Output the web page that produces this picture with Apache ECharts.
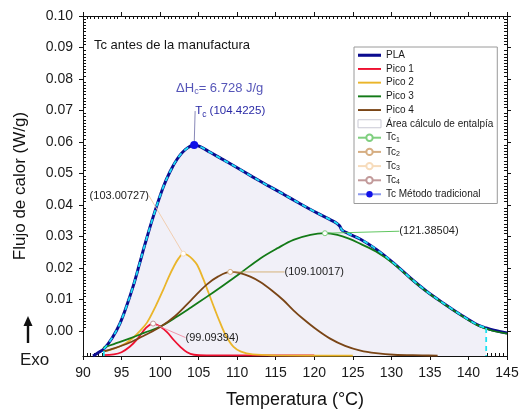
<!DOCTYPE html>
<html>
<head>
<meta charset="utf-8">
<script src="https://cdn.jsdelivr.net/npm/echarts@6/dist/echarts.min.js"></script>
<style>
  html, body { margin: 0; padding: 0; background: #ffffff; }
  #chart { width: 520px; height: 415px; }
</style>
</head>
<body>
<div id="chart"></div>
<script>
// DSC crystallization exotherm of PLA before processing, with its four fitted peaks.

// Axis tick labels
const xTickValues = [90, 95, 100, 105, 110, 115, 120, 125, 130, 135, 140, 145];
const yTickValues = [0.00, 0.01, 0.02, 0.03, 0.04, 0.05, 0.06, 0.07, 0.08, 0.09, 0.10];

// Measured heat flow (W/g) against temperature (°C)
const plaCurve = [
  [91.3, -0.0080], [92.0, -0.0069], [92.7, -0.0058], [93.8, -0.0022], [94.8, 0.0024],
  [95.6, 0.0075], [96.5, 0.0141], [97.3, 0.0210], [98.05, 0.0276], [99.1, 0.0362],
  [100.4, 0.0456], [101.3, 0.0506], [102.2, 0.0545], [103.2, 0.0574], [104.4225, 0.0590],
  [105.2, 0.0585], [106.5, 0.0567], [108.0, 0.0546], [110.0, 0.0518], [112.0, 0.0489],
  [114.0, 0.0461], [116.0, 0.0434], [118.0, 0.0406], [120.0, 0.0379], [122.0, 0.0354],
  [122.9, 0.0342], [123.3, 0.0333], [123.6, 0.0320], [124.5, 0.0308], [126.0, 0.0291],
  [128.1, 0.0258], [130.3, 0.0215], [132.5, 0.0167], [134.6, 0.0125], [136.8, 0.0087],
  [139.0, 0.0051], [141.1, 0.0020], [142.3, 0.0009], [143.3, 0.0002], [145.0, -0.0007]
];

// Fitted peaks
const pico1 = [
  [92.6, -0.0077], [94.0, -0.0075], [95.0, -0.0068], [96.1, -0.0050], [97.1, -0.0025],
  [98.2, 0.0010], [99.09394, 0.0023], [100.0, 0.0014], [100.9, -0.0004], [101.8, -0.0030],
  [102.6, -0.0050], [103.5, -0.0068], [104.4, -0.0076], [106.0, -0.0078], [120.0, -0.0078]
];
const pico2 = [
  [92.6, -0.0066], [94.0, -0.0057], [95.5, -0.0040], [96.5, -0.0022], [97.4, 0.0000],
  [98.3, 0.0026], [99.4, 0.0077], [100.4, 0.0130], [101.1, 0.0170], [101.8, 0.0205],
  [102.4, 0.0230], [103.00727, 0.0245], [103.6, 0.0240], [104.2, 0.0228], [104.8, 0.0210],
  [105.6, 0.0165], [106.3, 0.0120], [107.1, 0.0068], [107.8, 0.0025], [108.6, -0.0018],
  [109.5, -0.0050], [110.5, -0.0066], [112.0, -0.0075], [115.0, -0.0078], [125.0, -0.0079]
];
const pico3 = [
  [92.6, -0.0054], [94.0, -0.0042], [96.0, -0.0025], [98.0, -0.0006], [100.0, 0.0013],
  [102.0, 0.0042], [104.0, 0.0074], [106.0, 0.0107], [108.0, 0.0141], [110.4, 0.0183],
  [113.0, 0.0230], [115.2, 0.0262], [117.3, 0.0289], [119.5, 0.0305], [121.38504, 0.0310],
  [123.0, 0.0305], [124.5, 0.0293], [126.0, 0.0276], [128.0, 0.0252], [130.3, 0.0213],
  [132.5, 0.0166], [134.6, 0.0124], [136.8, 0.0086], [139.0, 0.0050], [141.1, 0.0019],
  [143.0, 0.0001], [145.0, -0.0009]
];
const pico4 = [
  [92.6, -0.0066], [94.0, -0.0056], [96.0, -0.0038], [98.0, -0.0014], [100.0, 0.0012],
  [102.0, 0.0048], [104.0, 0.0097], [106.0, 0.0146], [107.5, 0.0172], [109.10017, 0.0187],
  [110.4, 0.0183], [111.7, 0.0172], [113.0, 0.0155], [114.5, 0.0128], [116.0, 0.0097],
  [117.3, 0.0065], [118.5, 0.0039], [120.3, 0.0004], [122.0, -0.0024], [124.0, -0.0048],
  [126.0, -0.0063], [128.0, -0.0071], [130.3, -0.0076], [134.0, -0.0078], [136.0, -0.0079]
];

// Peak crystallization temperatures of the fitted peaks
const tcNames = ['Tc1', 'Tc2', 'Tc3', 'Tc4'];
const tcTemps = [121.38504, 109.10017, 103.00727, 99.09394];
const tcFlows = [0.0310, 0.0187, 0.0245, 0.0023];

// Traditional method: peak temperature, heat flow and crystallization enthalpy
const tcTraditional = [104.4225, 0.0590];
const deltaHc = 6.728;

// Integration limits of the enthalpy area (°C)
const areaLimits = [92.7, 142.3];

const Y_MIN = -0.008, Y_MAX = 0.10;
const FONT = 'Liberation Sans, Arial, Helvetica, sans-serif';
const ANNOT_BLUE = '#2a2aa6';

function minorTicks(major, parts) {
  const out = [];
  for (let i = 0; i < major.length - 1; i++) {
    const step = (major[i + 1] - major[i]) / parts;
    for (let k = 1; k < parts; k++) out.push(+(major[i] + k * step).toFixed(6));
  }
  return out;
}
const xMinor = minorTicks(xTickValues, 10);
const yMinor = minorTicks(yTickValues, 10);

const areaCurve = plaCurve.filter(p => p[0] >= areaLimits[0] && p[0] <= areaLimits[1]);
const flowAt = t => plaCurve.find(p => p[0] === t)[1];

function curve(name, data, color, width, extra) {
  return Object.assign({
    type: 'line', name, data, symbol: 'none', smooth: 0.35,
    lineStyle: { color, width }, itemStyle: { color }, silent: true, z: 3
  }, extra || {});
}

// plain line swatches for the legend
const thickLine = 'path://M0,0H24V3.2H0Z';
const thinLine = 'path://M0,0H24V2H0Z';

// Label styling for the four Tc markers
const tcColors = ['#7fcf7f', '#d6ae82', '#f7dcbc', '#c29a9a'];
const tcGuide = ['#4fbf4f', '#d2aa6c', '#f0c9a8', '#f08aa2'];
const tcOffsets = [[104, -2], [84, 0], [-64, -58], [59, 14]];

const tcSeries = tcNames.map((n, i) => ({
  type: 'line', name: n, data: [[tcTemps[i], tcFlows[i]]],
  symbol: 'circle', symbolSize: 5, showSymbol: true, z: 6,
  lineStyle: { color: tcColors[i], width: 1.2 },
  itemStyle: { color: '#ffffff', borderColor: tcColors[i], borderWidth: 1 },
  label: {
    show: true, position: 'inside', fontSize: 11, color: '#222', fontFamily: FONT,
    formatter: () => '(' + tcTemps[i].toFixed(5) + ')'
  },
  labelLayout: { dx: tcOffsets[i][0], dy: tcOffsets[i][1] },
  labelLine: { show: true, lineStyle: { color: tcGuide[i], width: 0.9 } }
}));

const subRich = (size, subSize) => ({
  n: { fontSize: size, lineHeight: 16, color: ANNOT_BLUE, fontFamily: FONT },
  s: { fontSize: subSize, lineHeight: 10, padding: [7, 0, 0, 0], color: ANNOT_BLUE, fontFamily: FONT }
});

const option = {
  animation: false,
  backgroundColor: '#ffffff',
  textStyle: { fontFamily: FONT },
  title: {
    text: 'Tc antes de la manufactura', left: 89, top: 34,
    textStyle: { fontSize: 13, fontWeight: 'normal', color: '#151515', fontFamily: FONT }
  },
  grid: { left: 83, right: 13, top: 16, bottom: 59, outerBoundsMode: 'none' },
  legend: {
    orient: 'vertical', left: 354, top: 47,
    backgroundColor: '#ffffff', borderColor: '#9a9a9a', borderWidth: 1, borderRadius: 0,
    padding: [3, 4, 4, 3], itemWidth: 23, itemHeight: 8, itemGap: 3.2,
    textStyle: {
      fontSize: 10, color: '#1a1a1a', fontFamily: FONT, lineHeight: 10.5,
      rich: {
        n: { fontSize: 10, lineHeight: 10.5, color: '#1a1a1a' },
        s: { fontSize: 7, lineHeight: 7, padding: [4, 0, 0, 0], color: '#1a1a1a' }
      }
    },
    formatter: name => /^Tc\d$/.test(name) ? '{n|Tc}{s|' + name.slice(2) + '}' : name,
    data: [
      { name: 'PLA', icon: thickLine },
      { name: 'Pico 1', icon: thinLine },
      { name: 'Pico 2', icon: thinLine },
      { name: 'Pico 3', icon: thinLine },
      { name: 'Pico 4', icon: thinLine },
      { name: 'Área cálculo de entalpía', icon: 'rect',
        itemStyle: { color: '#ffffff', borderColor: '#c9c9d4', borderWidth: 1 } },
      'Tc1', 'Tc2', 'Tc3', 'Tc4', 'Tc Método tradicional'
    ]
  },
  xAxis: [
    {
      type: 'value', position: 'bottom', min: 90, max: 145, interval: 5,
      axisLine: { onZero: false, lineStyle: { color: '#111', width: 1 } },
      axisTick: { show: true, inside: false, length: 4, lineStyle: { color: '#111' } },
      axisLabel: { fontSize: 14, color: '#1a1a1a', margin: 10, fontFamily: FONT },
      splitLine: { show: false },
      name: 'Temperatura (°C)', nameLocation: 'middle', nameGap: 35,
      nameTextStyle: { fontSize: 18, color: '#111', fontFamily: FONT }
    },
    {
      type: 'value', position: 'bottom', min: 90, max: 145,
      axisLine: { show: false, onZero: false },
      axisTick: { show: true, inside: true, length: 3, customValues: xMinor, lineStyle: { color: '#111' } },
      axisLabel: { show: false }, splitLine: { show: false }
    },
    {
      type: 'value', position: 'top', min: 90, max: 145, interval: 5,
      axisLine: { show: true, onZero: false, lineStyle: { color: '#111', width: 1 } },
      axisTick: { show: true, inside: false, length: 4, lineStyle: { color: '#111' } },
      axisLabel: { show: false }, splitLine: { show: false }
    },
    {
      type: 'value', position: 'top', min: 90, max: 145,
      axisLine: { show: false, onZero: false },
      axisTick: { show: true, inside: true, length: 3, customValues: xMinor, lineStyle: { color: '#111' } },
      axisLabel: { show: false }, splitLine: { show: false }
    }
  ],
  yAxis: [
    {
      type: 'value', position: 'left', min: Y_MIN, max: Y_MAX,
      axisLine: { show: true, onZero: false, lineStyle: { color: '#111', width: 1 } },
      axisTick: { show: true, inside: false, length: 4, customValues: yTickValues, lineStyle: { color: '#111' } },
      axisLabel: {
        customValues: yTickValues, formatter: v => v.toFixed(2),
        fontSize: 14, color: '#1a1a1a', margin: 10, fontFamily: FONT
      },
      splitLine: { show: false },
      name: 'Flujo de calor (W/g)', nameLocation: 'middle', nameGap: 54,
      nameTextStyle: { fontSize: 17, color: '#111', fontFamily: FONT }
    },
    {
      type: 'value', position: 'left', min: Y_MIN, max: Y_MAX,
      axisLine: { show: false, onZero: false },
      axisTick: { show: true, inside: true, length: 3, customValues: yMinor, lineStyle: { color: '#111' } },
      axisLabel: { show: false }, splitLine: { show: false }
    },
    {
      type: 'value', position: 'right', min: Y_MIN, max: Y_MAX,
      axisLine: { show: true, onZero: false, lineStyle: { color: '#111', width: 1 } },
      axisTick: { show: true, inside: false, length: 4, customValues: yTickValues, lineStyle: { color: '#111' } },
      axisLabel: { show: false }, splitLine: { show: false }
    },
    {
      type: 'value', position: 'right', min: Y_MIN, max: Y_MAX,
      axisLine: { show: false, onZero: false },
      axisTick: { show: true, inside: true, length: 3, customValues: yMinor, lineStyle: { color: '#111' } },
      axisLabel: { show: false }, splitLine: { show: false }
    }
  ],
  graphic: [
    { type: 'text', left: 20, top: 352,
      style: { text: 'Exo', fontSize: 17, fill: '#1a1a1a', fontFamily: FONT } },
    { type: 'polygon', shape: { points: [[28, 316], [23.5, 326], [32.5, 326]] }, style: { fill: '#111' } },
    { type: 'rect', shape: { x: 26.8, y: 324, width: 2.4, height: 19 }, style: { fill: '#111' } }
  ],
  series: [
    // enthalpy integration area under the measured curve
    curve('Área cálculo de entalpía', areaCurve, '#ffffff', 0, {
      z: 1, lineStyle: { width: 0, opacity: 0 },
      areaStyle: { color: '#f1f0f8', opacity: 1, origin: 'start' }
    }),
    curve('PLA', plaCurve, '#0b0b8f', 3),
    curve('Pico 1', pico1, '#ee1030', 1.8),
    curve('Pico 2', pico2, '#eab52a', 1.8),
    curve('Pico 3', pico3, '#137a17', 1.8),
    curve('Pico 4', pico4, '#7a4516', 1.8),
    // dashed outline of the integrated region
    curve('areaOutline', areaCurve, '#1ee0f0', 1.8, { z: 4, lineStyle: { color: '#1ee0f0', width: 1.8, type: [5, 4] } }),
    {
      type: 'line', name: 'areaStartEdge', silent: true, z: 4, symbol: 'none',
      data: [[areaLimits[0], Y_MIN], [areaLimits[0], flowAt(areaLimits[0])]],
      lineStyle: { color: '#1ee0f0', width: 1.8, type: [5, 4] }
    },
    {
      type: 'line', name: 'areaEndEdge', silent: true, z: 4, symbol: 'none',
      data: [[areaLimits[1], flowAt(areaLimits[1])], [areaLimits[1], Y_MIN]],
      lineStyle: { color: '#1ee0f0', width: 1.8, type: [5, 4] }
    },
    ...tcSeries,
    // enthalpy annotation attached to the traditional-method peak
    {
      type: 'scatter', name: 'enthalpyNote', data: [tcTraditional], symbolSize: 0, silent: true, z: 7,
      label: {
        show: true, position: 'inside',
        formatter: () => '{n|ΔH}{s|c}{n|= ' + deltaHc.toFixed(3) + ' J/g}',
        rich: subRich(13, 9)
      },
      labelLayout: { dx: 25.5, dy: -57 }
    },
    {
      type: 'line', name: 'Tc Método tradicional', data: [tcTraditional],
      symbol: 'circle', symbolSize: 8, showSymbol: true, z: 7,
      lineStyle: { color: '#8b98ee', width: 1.2 },
      itemStyle: { color: '#1010e8' },
      label: {
        show: true, position: 'inside',
        formatter: () => '{n|T}{s|c}{n| (' + tcTraditional[0] + ')}',
        rich: subRich(11.5, 8.5)
      },
      labelLayout: { dx: 36, dy: -34 },
      labelLine: { show: true, lineStyle: { color: '#7a7ab0', width: 0.9 } }
    }
  ]
};

const chart = echarts.init(document.getElementById('chart'), null, { renderer: 'canvas' });
chart.setOption(option);
</script>
</body>
</html>
